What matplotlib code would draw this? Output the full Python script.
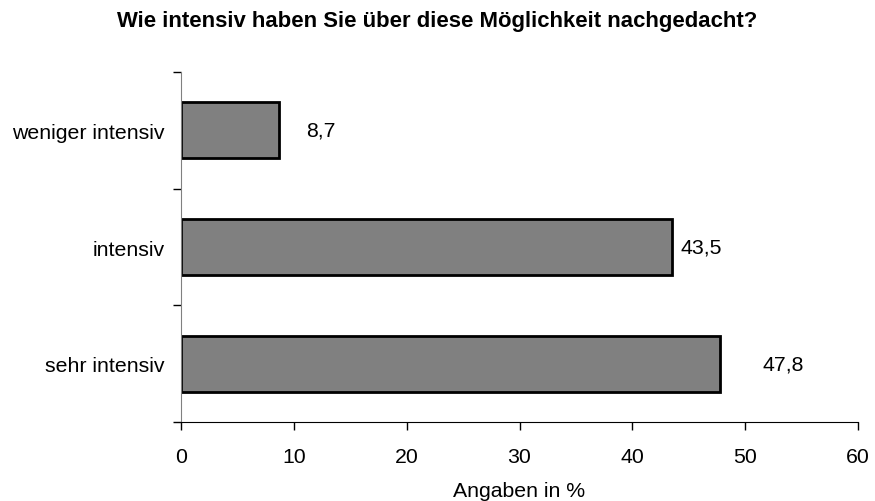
import matplotlib
matplotlib.use("Agg")
import matplotlib.pyplot as plt

categories = ["sehr intensiv", "intensiv", "weniger intensiv"]
values = [47.8, 43.5, 8.7]
value_labels = ["47,8", "43,5", "8,7"]
label_offsets = [3.7, 0.8, 2.4]
xticks = [0, 10, 20, 30, 40, 50, 60]

plt.rcParams['font.family'] = ['Liberation Sans', 'DejaVu Sans']
FS = 15.3

fig = plt.figure(figsize=(8.75, 5.02), dpi=100)
ax = fig.add_axes([181/875, 79/502, 677/875, 350/502])

y = list(range(len(categories)))
ax.barh(y, values, height=0.48, color="#808080", edgecolor="black", linewidth=2)

for yi, v, lab, off in zip(y, values, value_labels, label_offsets):
    ax.text(v + off, yi, lab, va="center", ha="left", fontsize=FS)

ax.set_xlim(0, 60)
ax.set_ylim(-0.5, 2.5)
ax.set_xticks(xticks)
ax.set_xticklabels([str(t) for t in xticks], fontsize=FS)
ax.set_yticks([-0.5, 0.5, 1.5, 2.5])
ax.set_yticklabels([])
ax.set_yticks(y, minor=True)
ax.set_yticklabels(categories, minor=True, fontsize=FS)
ax.tick_params(axis="y", which="minor", length=0, pad=12)
ax.tick_params(axis="y", which="major", length=6, width=1, color="black")
ax.tick_params(axis="x", length=6, width=1, pad=12)

ax.spines["top"].set_visible(False)
ax.spines["right"].set_visible(False)
ax.spines["left"].set_color("#808080")
ax.spines["bottom"].set_color("black")

ax.set_xlabel("Angaben in %", fontsize=FS, va="top")
ax.xaxis.set_label_coords(0.5, -(482 - 423) / 350)
fig.text(0.5, 1 - 21/502, "Wie intensiv haben Sie über diese Möglichkeit nachgedacht?",
         ha="center", va="center", fontsize=15.9, fontweight="bold")

fig.savefig("out.png", dpi=100)
